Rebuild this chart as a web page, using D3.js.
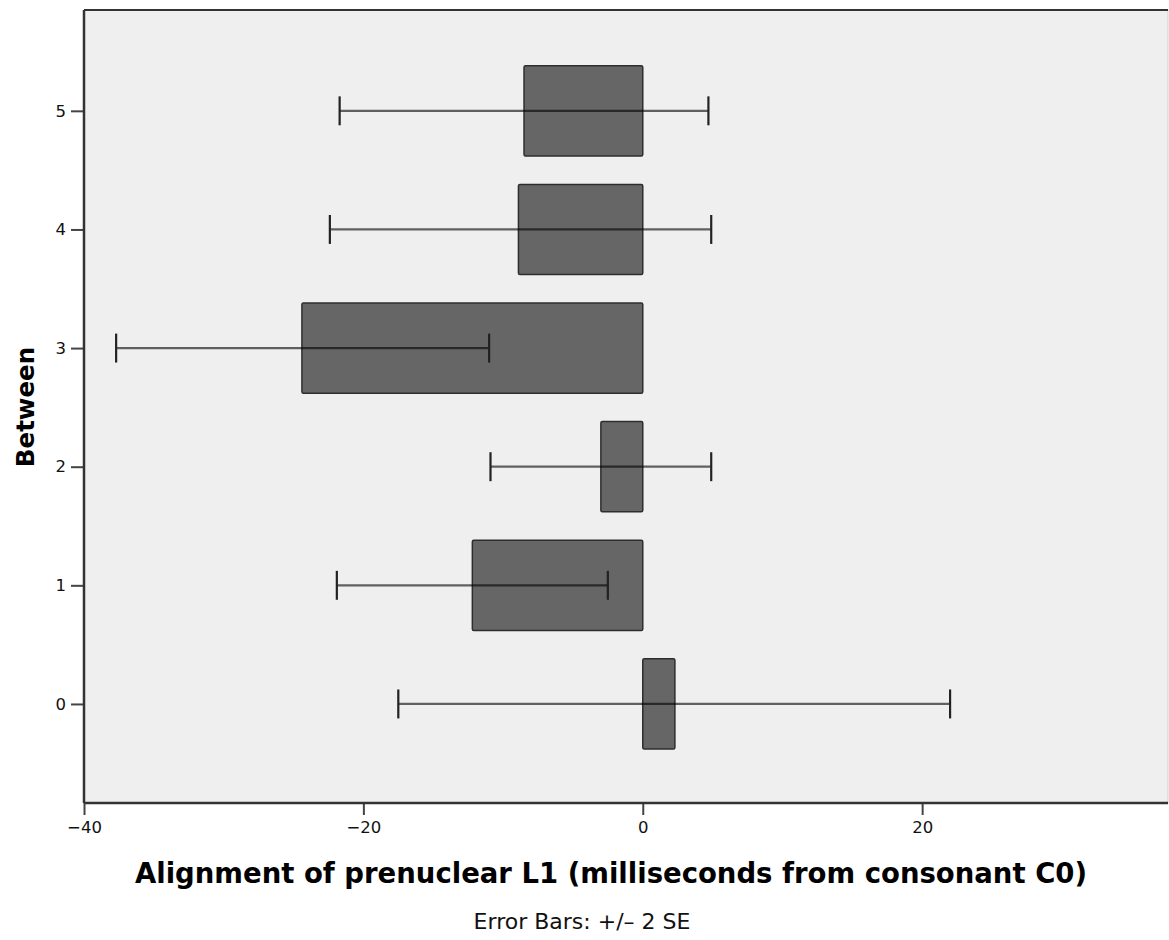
<!DOCTYPE html>
<html>
<head>
<meta charset="utf-8">
<script src="https://cdn.jsdelivr.net/npm/d3@7"></script>
<style>
  body { margin: 0; background: #fff; }
  svg text { font-family: "DejaVu Sans", sans-serif; }
</style>
</head>
<body>
<div id="container"></div>
<script>
// Between groups and the mean alignment (ms from C0), with +/- 2 SE limits
let groups = [0, 1, 2, 3, 4, 5];
let means = [2.3, -12.2, -3.0, -24.4, -8.9, -8.5];
let errLow = [-17.5, -21.9, -10.9, -37.7, -22.4, -21.7];
let errHigh = [22.0, -2.5, 4.9, -11.0, 4.9, 4.7];
let xTicks = [-40, -20, 0, 20];

let w = 1169;
let h = 940;
let pLeft = 84, pTop = 10, pRight = 1168, pBottom = 803;

let svg = d3.select("#container")
  .append("svg")
  .attr("width", w)
  .attr("height", h);

let x = d3.scaleLinear()
  .domain([-40, 37.6])
  .range([pLeft, pRight]);

let y = d3.scaleLinear()
  .domain([-0.835, 5.85])
  .range([pBottom, pTop]);

let barHalf = 0.38;
let capHalf = 0.122;

// plot background
svg.append("rect")
  .attr("x", pLeft)
  .attr("y", pTop)
  .attr("width", pRight - pLeft)
  .attr("height", pBottom - pTop)
  .attr("fill", "#efefef")
  .attr("stroke", "#cfcfcf")
  .attr("stroke-width", 1);

// top border
svg.append("line")
  .attr("x1", pLeft).attr("x2", pRight)
  .attr("y1", pTop).attr("y2", pTop)
  .attr("stroke", "#333").attr("stroke-width", 2);

let data = groups.map((g, i) => ({g: g, mean: means[i], lo: errLow[i], hi: errHigh[i]}));

// bars
svg.selectAll(".bar")
  .data(data)
  .enter()
  .append("rect")
  .attr("class", "bar")
  .attr("x", d => x(Math.min(0, d.mean)))
  .attr("width", d => Math.abs(x(d.mean) - x(0)))
  .attr("y", d => y(d.g + barHalf))
  .attr("height", d => y(d.g - barHalf) - y(d.g + barHalf))
  .attr("rx", 1.5)
  .attr("fill", "#666")
  .attr("stroke", "#2e2e2e")
  .attr("stroke-width", 1.5);

// error bars
let err = svg.selectAll(".err")
  .data(data)
  .enter()
  .append("g")
  .attr("class", "err");

err.append("line")
  .attr("x1", d => x(d.lo))
  .attr("x2", d => x(d.hi))
  .attr("y1", d => y(d.g))
  .attr("y2", d => y(d.g))
  .attr("stroke", "#000")
  .attr("stroke-opacity", 0.6)
  .attr("stroke-width", 2.2);

err.selectAll(".cap")
  .data(d => [{v: d.lo, g: d.g}, {v: d.hi, g: d.g}])
  .enter()
  .append("line")
  .attr("class", "cap")
  .attr("x1", d => x(d.v))
  .attr("x2", d => x(d.v))
  .attr("y1", d => y(d.g + capHalf))
  .attr("y2", d => y(d.g - capHalf))
  .attr("stroke", "#222")
  .attr("stroke-width", 2.2);

// axes
let xAxis = svg.append("g")
  .attr("transform", "translate(0," + pBottom + ")")
  .call(d3.axisBottom(x).tickValues(xTicks).tickSizeOuter(0).tickSize(12).tickPadding(6));

let yAxis = svg.append("g")
  .attr("transform", "translate(" + pLeft + ",0)")
  .call(d3.axisLeft(y).tickValues(groups).tickFormat(d3.format("d")).tickSizeOuter(0).tickSize(13).tickPadding(5));

[xAxis, yAxis].forEach(a => {
  a.select(".domain").remove();
  a.selectAll(".tick line").attr("stroke", "#444").attr("stroke-width", 2);
  a.selectAll(".tick text").attr("fill", "#111").style("font-size", "16.5px");
});

// axis lines drawn over ticks
svg.append("line")
  .attr("x1", pLeft).attr("x2", pRight)
  .attr("y1", pBottom).attr("y2", pBottom)
  .attr("stroke", "#333").attr("stroke-width", 2.5);
svg.append("line")
  .attr("x1", pLeft).attr("x2", pLeft)
  .attr("y1", pTop).attr("y2", pBottom)
  .attr("stroke", "#333").attr("stroke-width", 2.5);

// titles
svg.append("text")
  .attr("x", 611)
  .attr("y", 883)
  .attr("text-anchor", "middle")
  .style("font-size", "27.5px")
  .style("font-weight", "bold")
  .text("Alignment of prenuclear L1 (milliseconds from consonant C0)");

svg.append("text")
  .attr("transform", "translate(34,407) rotate(-90)")
  .attr("text-anchor", "middle")
  .style("font-size", "24.5px")
  .style("font-weight", "bold")
  .text("Between");

svg.append("text")
  .attr("x", 582)
  .attr("y", 929)
  .attr("text-anchor", "middle")
  .style("font-size", "22px")
  .attr("fill", "#111")
  .text("Error Bars: +/\u2013 2 SE");
</script>
</body>
</html>
